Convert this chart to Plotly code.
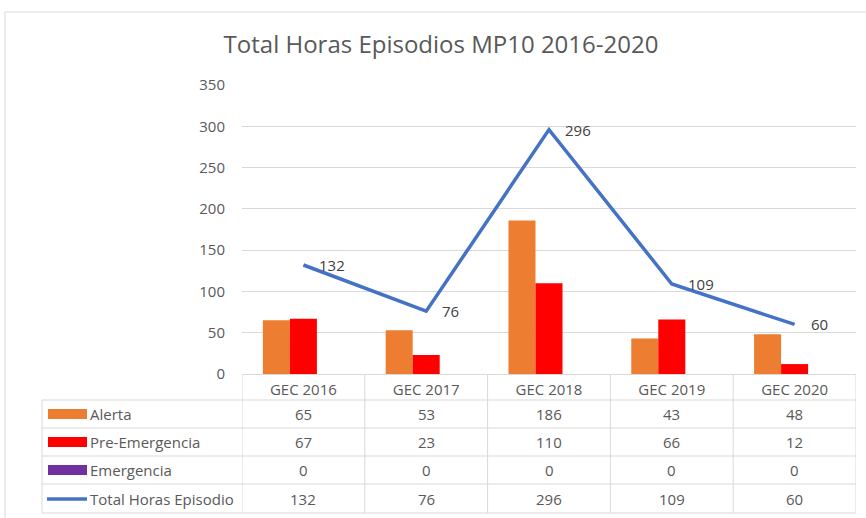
import plotly.graph_objects as go

categories = ["GEC 2016", "GEC 2017", "GEC 2018", "GEC 2019", "GEC 2020"]
alerta = [65, 53, 186, 43, 48]
pre_emergencia = [67, 23, 110, 66, 12]
emergencia = [0, 0, 0, 0, 0]
total_horas = [132, 76, 296, 109, 60]
series_names = ["Alerta", "Pre-Emergencia", "Emergencia", "Total Horas Episodio"]
y_ticks = [0, 50, 100, 150, 200, 250, 300, 350]
title_text = "Total Horas Episodios MP10 2016-2020"

W, H = 866, 518
ORANGE = "#ED7D31"
RED = "#FF0000"
PURPLE = "#7030A0"
BLUE = "#4472C4"
TXT = "#595959"
GRID = "#D9D9D9"
FONT = "Open Sans"
FS = 15


def px(x):
    return x / W


def py(y):
    return 1 - y / H


fig = go.Figure()
bar_series = [(alerta, ORANGE), (pre_emergencia, RED), (emergencia, PURPLE)]
for (vals, col), name in zip(bar_series, series_names[:3]):
    fig.add_bar(x=categories, y=vals, name=name, marker_color=col,
                marker_line_width=0, showlegend=False)
fig.add_scatter(x=categories, y=total_horas, name=series_names[3], mode="lines",
                line=dict(color=BLUE, width=3.5), showlegend=False)

annotations = []
# data labels on line
for c, v in zip(categories, total_horas):
    annotations.append(dict(x=c, y=v, xref="x", yref="y", text=str(v), showarrow=False,
                            xanchor="left", yanchor="middle", xshift=14,
                            font=dict(family=FONT, size=FS, color="#404040")))

# table geometry (pixels)
plot_left, plot_right = 242, 856
table_left = 42
axis_y = 374
row_lines = [400, 428, 456, 484, 513]
row_centers = [414, 442, 470, 499]
row_values = [alerta, pre_emergencia, emergencia, total_horas]

shapes = []
# outer chart border
shapes.append(dict(type="line", xref="paper", yref="paper", x0=px(5), x1=px(866),
                   y0=py(12), y1=py(12), line=dict(color=GRID, width=1)))
shapes.append(dict(type="line", xref="paper", yref="paper", x0=px(5), x1=px(5),
                   y0=py(12), y1=py(518), line=dict(color=GRID, width=1)))
# horizontal table lines
for yl in row_lines:
    shapes.append(dict(type="line", xref="paper", yref="paper", x0=px(table_left),
                       x1=px(plot_right), y0=py(yl), y1=py(yl),
                       line=dict(color=GRID, width=1)))
# table left border
shapes.append(dict(type="line", xref="paper", yref="paper", x0=px(table_left),
                   x1=px(table_left), y0=py(row_lines[0]), y1=py(row_lines[-1]),
                   line=dict(color=GRID, width=1)))
# vertical category boundaries
for i in range(len(categories) + 1):
    shapes.append(dict(type="line", xref="x", yref="paper", x0=i - 0.5, x1=i - 0.5,
                       y0=py(axis_y), y1=py(row_lines[-1]),
                       line=dict(color=GRID, width=1)))

key_x0, key_x1 = 48, 87
key_colors = [ORANGE, RED, PURPLE]
for r, (name, vals, yc) in enumerate(zip(series_names, row_values, row_centers)):
    if r < 3:
        shapes.append(dict(type="rect", xref="paper", yref="paper", x0=px(key_x0),
                           x1=px(key_x1), y0=py(yc + 5), y1=py(yc - 5),
                           fillcolor=key_colors[r], line=dict(width=0)))
    else:
        shapes.append(dict(type="line", xref="paper", yref="paper", x0=px(key_x0 - 1),
                           x1=px(key_x1), y0=py(yc), y1=py(yc),
                           line=dict(color=BLUE, width=3.5)))
    annotations.append(dict(x=px(key_x1 + 1), y=py(yc), xref="paper", yref="paper",
                            text=name, showarrow=False, xanchor="left", yanchor="middle",
                            font=dict(family=FONT, size=FS, color=TXT)))
    for c, v in zip(categories, vals):
        annotations.append(dict(x=c, y=py(yc), xref="x", yref="paper", text=str(v),
                                showarrow=False, xanchor="center", yanchor="middle",
                                font=dict(family=FONT, size=FS, color=TXT)))

fig.update_layout(
    width=W, height=H, autosize=False,
    margin=dict(l=0, r=0, t=0, b=0, pad=0, autoexpand=False),
    paper_bgcolor="white", plot_bgcolor="white",
    barmode="group", bargap=0.34, bargroupgap=0,
    title=dict(text=title_text, x=px(441), y=py(45), xanchor="center", yanchor="middle",
               font=dict(family=FONT, size=24, color=TXT)),
    xaxis=dict(domain=[px(plot_left), px(plot_right)], range=[-0.5, 4.5],
               showline=True, linecolor=GRID, linewidth=1, showgrid=False,
               ticks="", tickfont=dict(family=FONT, size=FS, color=TXT),
               ticklabelstandoff=2, fixedrange=True, automargin=False),
    yaxis=dict(domain=[py(axis_y), py(85)], range=[0, 350], tickvals=y_ticks,
               showgrid=True, gridcolor=GRID, gridwidth=1, zeroline=False,
               showline=False, ticks="", ticklabelstandoff=16,
               tickfont=dict(family=FONT, size=FS, color=TXT), fixedrange=True,
               automargin=False),
    shapes=shapes,
    annotations=annotations,
)

fig.write_html("out.html", config={"responsive": False, "displayModeBar": False},
               post_script="document.body.style.margin='0';document.body.style.padding='0';")
